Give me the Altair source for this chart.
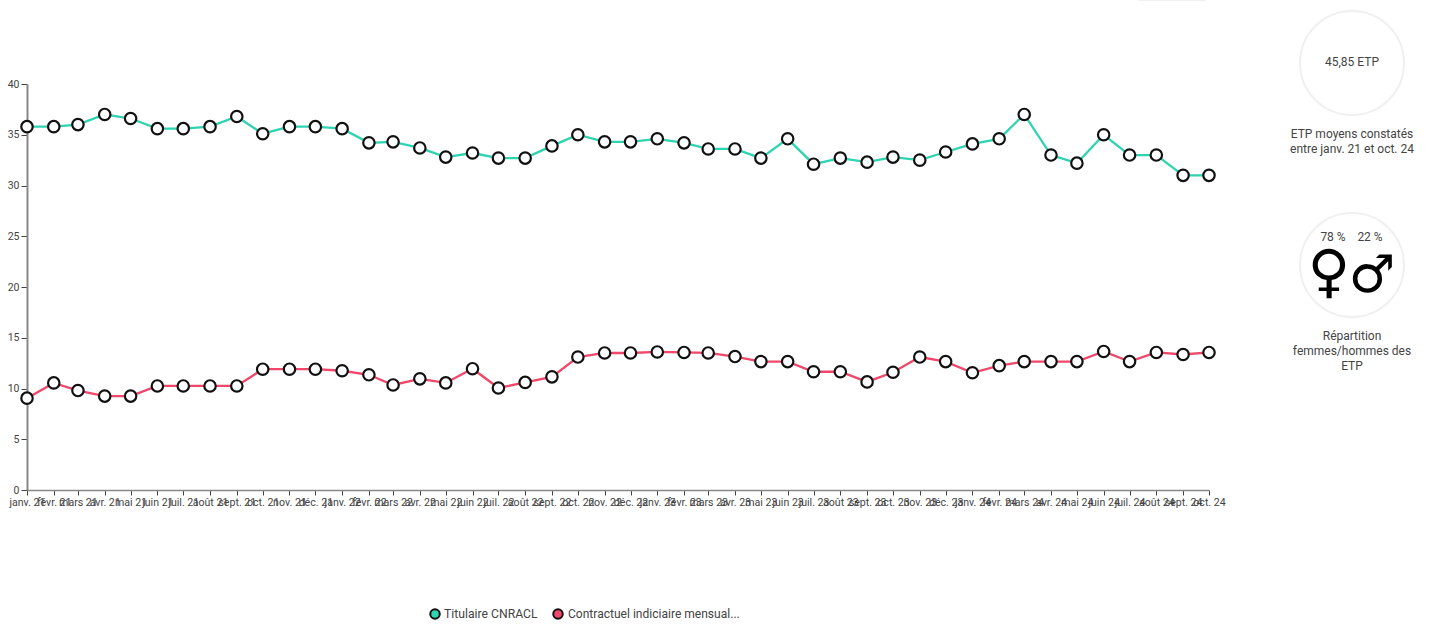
import altair as alt
import pandas as pd

MONTHS = ["janv.", "févr.", "mars", "avr.", "mai", "juin", "juil.", "août", "sept.", "oct.", "nov.", "déc."]
dates = pd.date_range("2021-01-01", periods=46, freq="MS").strftime("%Y-%m-%dT00:00:00Z").tolist()

titulaire = [35.8, 35.8, 36.0, 37.0, 36.6, 35.6, 35.6, 35.8, 36.8, 35.1, 35.8, 35.8,
             35.6, 34.2, 34.3, 33.7, 32.8, 33.2, 32.7, 32.7, 33.9, 35.0, 34.3, 34.3,
             34.6, 34.2, 33.6, 33.6, 32.7, 34.6, 32.1, 32.7, 32.3, 32.8, 32.5, 33.3,
             34.1, 34.6, 37.0, 33.0, 32.2, 35.0, 33.0, 33.0, 31.0, 31.0]
contractuel = [9.05, 10.55, 9.8, 9.25, 9.25, 10.25, 10.25, 10.25, 10.25, 11.9, 11.9, 11.9,
               11.75, 11.35, 10.35, 10.95, 10.55, 11.95, 10.05, 10.6, 11.15, 13.1, 13.5, 13.5,
               13.6, 13.55, 13.5, 13.15, 12.65, 12.65, 11.65, 11.65, 10.65, 11.6, 13.1, 12.65,
               11.55, 12.25, 12.65, 12.65, 12.65, 13.65, 12.65, 13.55, 13.35, 13.55]

series_names = ["Titulaire CNRACL", "Contractuel indiciaire mensual..."]
series_colors = ["#2ed3b0", "#f0476a"]
y_ticks = [0, 5, 10, 15, 20, 25, 30, 35, 40]

FONT = "Roboto"
TEXT = "#444444"
W, H, LEFT, TOP = 1182, 406, 27, 84

df = pd.DataFrame({
    "mois": dates * 2,
    "etp": titulaire + contractuel,
    "serie": [series_names[0]] * 46 + [series_names[1]] * 46,
})

# French month labels, built in the expression so they do not depend on the browser locale
month_array = "[" + ",".join(f"'{m}'" for m in MONTHS) + "]"
x_label = f"{month_array}[utcmonth(datum.value)] + ' ' + utcFormat(datum.value, '%y')"

x = alt.X("mois:T", title=None,
          scale=alt.Scale(type="utc", nice=False),
          axis=alt.Axis(tickCount={"interval": "month", "step": 1}, labelExpr=x_label,
                        labelAngle=0, labelOverlap=False, labelFlush=False, labelBound=False,
                        labelFont=FONT, labelFontSize=10.6, labelColor=TEXT, labelPadding=2,
                        tickColor="#444444", tickSize=5,
                        domainColor="#888888", domainWidth=1.5, grid=False))
y = alt.Y("etp:Q", title=None,
          scale=alt.Scale(domain=[0, 40], nice=False),
          axis=alt.Axis(values=y_ticks, labelFont=FONT, labelFontSize=10.5, labelColor=TEXT,
                        labelPadding=2, tickColor="#444444", tickSize=6,
                        domainColor="#888888", domainWidth=2, grid=False))
color = alt.Color("serie:N", legend=None,
                  scale=alt.Scale(domain=series_names, range=series_colors))

lines = alt.Chart(df).mark_line(strokeWidth=2.3).encode(x=x, y=y, color=color, detail="serie:N")
points = alt.Chart(df).mark_point(filled=True, fill="white", stroke="#111111", strokeWidth=2.2,
                                  size=130, opacity=1).encode(x=x, y=y, detail="serie:N")


def px(xp):
    return alt.value(xp - LEFT)


def py(yp):
    return alt.value(yp - TOP)


def label(text, xp, yp, size=12, font=FONT, color=TEXT, align="center", weight="normal"):
    return alt.Chart(pd.DataFrame({"t": [text]})).mark_text(
        font=font, fontSize=size, color=color, align=align, baseline="middle", fontWeight=weight
    ).encode(text="t:N", x=px(xp), y=py(yp))


def ring(xp, yp):
    return alt.Chart(pd.DataFrame({"r": [0]})).mark_point(
        shape="circle", size=10816, filled=False, stroke="#f0f0f0", strokeWidth=2, opacity=1
    ).encode(x=px(xp), y=py(yp))


def legend_dot(xp, fill):
    return alt.Chart(pd.DataFrame({"r": [0]})).mark_point(
        shape="circle", size=90, filled=True, fill=fill, stroke="#111111", strokeWidth=2, opacity=1
    ).encode(x=px(xp), y=py(614))


top_sliver = alt.Chart(pd.DataFrame({"r": [0]})).mark_rule(color="#f0f0f0", strokeWidth=2).encode(
    x=px(1139), x2=px(1206), y=py(0)
)

layers = [
    lines, points, top_sliver,
    ring(1352, 63), ring(1352, 265),
    label("45,85 ETP", 1352, 62),
    label("ETP moyens constatés", 1352, 134),
    label("entre janv. 21 et oct. 24", 1352, 149),
    label("78 %", 1333, 237),
    label("22 %", 1370, 237),
    label("♀", 1329, 274, size=58, font="DejaVu Sans", color="#000000", weight="bold"),
    label("♂", 1372, 276, size=52, font="DejaVu Sans", color="#000000", weight="bold"),
    label("Répartition", 1352, 336),
    label("femmes/hommes des", 1352, 351),
    label("ETP", 1352, 366),
    legend_dot(435, series_colors[0]),
    legend_dot(558, series_colors[1]),
    label(series_names[0], 444, 614, size=12.2, align="left"),
    label(series_names[1], 568, 614, size=12.05, align="left"),
]

chart = alt.layer(*layers).properties(
    width=W, height=H,
    padding={"left": LEFT, "top": TOP, "right": 1430 - LEFT - W, "bottom": 624 - TOP - H},
    autosize=alt.AutoSizeParams(type="none"),
    background="white",
).configure_view(stroke=None)

chart.save("out.html", embed_options={"renderer": "svg", "actions": False})
